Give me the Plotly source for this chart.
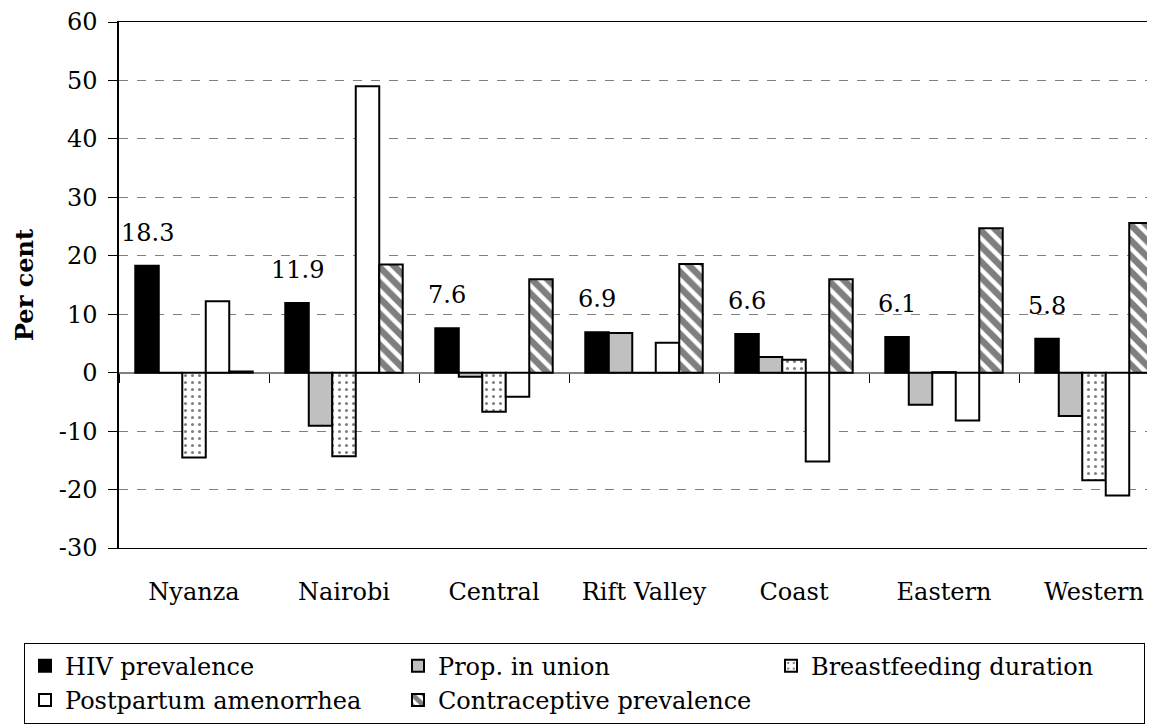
import plotly.graph_objects as go

regions = ["Nyanza", "Nairobi", "Central", "Rift Valley", "Coast", "Eastern", "Western"]
hiv_prevalence = [18.3, 11.9, 7.6, 6.9, 6.6, 6.1, 5.8]
prop_in_union = [0.0, -9.1, -0.7, 6.8, 2.7, -5.5, -7.4]
breastfeeding = [-14.5, -14.3, -6.7, 0.0, 2.2, 0.1, -18.4]
postpartum_amen = [12.2, 49.0, -4.1, 5.1, -15.2, -8.2, -21.0]
contraceptive = [0.2, 18.5, 16.0, 18.6, 16.0, 24.7, 25.6]
y_ticks = [-30, -20, -10, 0, 10, 20, 30, 40, 50, 60]
y_tick_labels = [str(v) for v in y_ticks]

FONT = "DejaVu Serif"
BARGAP = 0.217
N_SERIES = 5

line = dict(color="black", width=2)
fig = go.Figure()
fig.add_trace(go.Bar(name="HIV prevalence", x=regions, y=hiv_prevalence,
                     marker=dict(color="black", line=line)))
fig.add_trace(go.Bar(name="Prop. in union", x=regions, y=prop_in_union,
                     marker=dict(color="#c0c0c0", line=line)))
fig.add_trace(go.Bar(name="Breastfeeding duration", x=regions, y=breastfeeding,
                     marker=dict(color="white", line=line,
                                 pattern=dict(shape=".", fgcolor="black", bgcolor="white",
                                              size=7, solidity=0.15, fillmode="overlay"))))
fig.add_trace(go.Bar(name="Postpartum amenorrhea", x=regions, y=postpartum_amen,
                     marker=dict(color="white", line=line)))
fig.add_trace(go.Bar(name="Contraceptive prevalence", x=regions, y=contraceptive,
                     marker=dict(color="white", line=line,
                                 pattern=dict(shape="\\", fgcolor="black", bgcolor="white",
                                              size=11, solidity=0.6, fillmode="overlay"))))

# invisible trace on the secondary x axis that carries the tick marks at the zero line
fig.add_trace(go.Scatter(x=regions, y=hiv_prevalence, xaxis="x2", mode="markers",
                         marker=dict(opacity=0), showlegend=False, hoverinfo="skip"))

# value labels above HIV bars
bw = (1 - BARGAP) / N_SERIES
hiv_offset = -(1 - BARGAP) / 2 + bw / 2
for i, v in enumerate(hiv_prevalence):
    fig.add_annotation(x=i + hiv_offset, y=v, text=f"{v:.1f}", showarrow=False,
                       yanchor="middle", yshift=33, xref="x", yref="y",
                       font=dict(family=FONT, size=24, color="black"))

ymin, ymax = -30, 60
xrange = [-0.5, 6.46]

fig.update_layout(
    width=1155, height=727,
    margin=dict(l=111, r=0, t=14, b=187, autoexpand=False),
    paper_bgcolor="white", plot_bgcolor="white",
    barmode="group", bargap=BARGAP, bargroupgap=0,
    font=dict(family=FONT, size=24, color="black"),
    xaxis=dict(type="category", categoryorder="array", categoryarray=regions,
               range=xrange, showgrid=False, zeroline=False, automargin=False,
               showline=True, mirror=True, linecolor="black", linewidth=1,
               ticks="", ticklabelstandoff=22,
               tickfont=dict(family=FONT, size=24, color="black")),
    xaxis2=dict(type="category", categoryorder="array", categoryarray=regions,
                range=xrange, overlaying="x", anchor="free",
                position=(0 - ymin) / (ymax - ymin), side="bottom", automargin=False,
                showticklabels=False, showgrid=False, zeroline=False, showline=False,
                ticks="outside", tickson="boundaries", ticklen=9, tickcolor="black", tickwidth=1),
    yaxis=dict(range=[ymin, ymax], tickmode="array", tickvals=y_ticks, ticktext=y_tick_labels,
               showgrid=True, gridcolor="#808080", griddash="dash", gridwidth=1,
               zeroline=True, zerolinecolor="#808080", zerolinewidth=2, automargin=False,
               showline=True, linecolor="black", linewidth=1.5,
               ticks="outside", ticklen=9, tickcolor="black", ticklabelstandoff=6,
               tickfont=dict(family=FONT, size=24, color="black"),
               title=dict(text="<b>Per cent</b>", standoff=18,
                          font=dict(family=FONT, size=24, color="black"))),
    legend=dict(orientation="h", x=-0.091, xanchor="left", y=-0.180, yanchor="top",
                bordercolor="black", borderwidth=1, bgcolor="white",
                entrywidthmode="pixels", entrywidth=328,
                font=dict(family=FONT, size=24, color="black"),
                traceorder="normal"),
)

fig.write_html("out.html")
